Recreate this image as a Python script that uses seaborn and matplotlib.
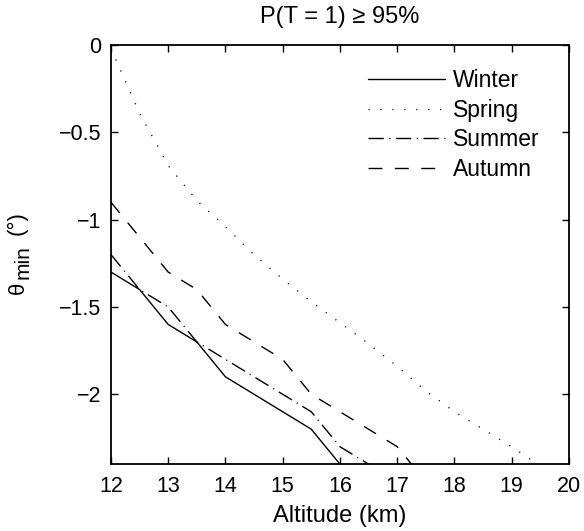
import numpy as np
import pandas as pd
import matplotlib
matplotlib.use("Agg")
import matplotlib.pyplot as plt
import seaborn as sns

# dados
alt_winter = [12, 12.5, 13, 13.5, 14, 14.5, 15, 15.5, 16]
winter = [-1.3, -1.4, -1.6, -1.7, -1.9, -2.0, -2.1, -2.2, -2.4]

alt_spring = [12, 12.5, 13, 13.5, 14, 14.5, 15, 15.5, 16, 16.5, 17, 17.5, 18, 18.5, 19, 19.5]
spring = [-0.02, -0.39, -0.69, -0.89, -1.04, -1.2, -1.34, -1.47, -1.59, -1.71,
          -1.84, -1.98, -2.1, -2.2, -2.3, -2.41]

alt_summer = [12, 12.5, 13, 13.5, 14, 14.5, 15, 15.5, 16, 16.5]
summer = [-1.2, -1.4, -1.5, -1.7, -1.8, -1.9, -2.0, -2.1, -2.3, -2.4]

alt_autumn = [12, 12.5, 13, 13.5, 14, 14.5, 15, 15.5, 16, 16.5, 17, 17.5]
autumn = [-0.9, -1.1, -1.3, -1.4, -1.6, -1.7, -1.8, -2.0, -2.1, -2.2, -2.3, -2.5]

sns.set_style("white")
plt.rcParams['font.family'] = ['Liberation Sans', 'DejaVu Sans']
plt.rcParams['lines.scale_dashes'] = False
plt.rcParams['text.color'] = 'black'
plt.rcParams['axes.labelcolor'] = 'black'
plt.rcParams['xtick.color'] = 'black'
plt.rcParams['ytick.color'] = 'black'

fs = 15.5

fig = plt.figure(figsize=(5.84, 5.31), dpi=100)
ax = fig.add_axes([0.190, 0.126, 0.784, 0.789])

series = [
    ("Winter", alt_winter, winter, "-"),
    ("Spring", alt_spring, spring, (0, (0.8, 7.8))),
    ("Summer", alt_summer, summer, (0, (11, 4, 0.8, 4))),
    ("Autumn", alt_autumn, autumn, (0, (10, 9))),
]

for nome, x, y, ls in series:
    d = pd.DataFrame({"alt": x, "theta": y})
    sns.lineplot(data=d, x="alt", y="theta", ax=ax, color="black",
                 linewidth=1.0, linestyle=ls, label=nome, sort=False)

ax.set_xlim(12, 20)
ax.set_ylim(-2.4, 0)
ax.set_xticks(np.arange(12, 21, 1))
ax.set_yticks([0, -0.5, -1, -1.5, -2])
ax.set_yticklabels(["0", "\u22120.5", "\u22121", "\u22121.5", "\u22122"])

ax.tick_params(direction="in", length=5, width=1, labelsize=fs,
               colors="black", top=True, right=True, bottom=True, left=True)
ax.tick_params(axis="x", pad=8.5)
ax.tick_params(axis="y", pad=7)
for s in ax.spines.values():
    s.set_visible(True)
    s.set_linewidth(1.3)
    s.set_color("black")

ax.set_xlabel("Altitude (km)", fontsize=17, labelpad=6, color="black")
ax.set_ylabel("")
# theta_min (°) com subscrito quase do mesmo tamanho, como no original
ax.text(-0.203, 0.42, "\u03b8", rotation=90, fontsize=16, color="black",
        ha="center", va="center", transform=ax.transAxes)
ax.text(-0.193, 0.482, "min", rotation=90, fontsize=15, color="black",
        ha="center", va="center", transform=ax.transAxes)
ax.text(-0.205, 0.576, "(\u00b0)", rotation=90, fontsize=16, color="black",
        ha="center", va="center", transform=ax.transAxes)
ax.set_title("P(T = 1) \u2265 95%", fontsize=17, pad=16, color="black")

leg = ax.legend(loc="upper left", bbox_to_anchor=(0.561, 0.943), frameon=False,
                fontsize=16.5, handlelength=3.36, handletextpad=0.35,
                labelspacing=0.29, borderaxespad=0, borderpad=0)
for t in leg.get_texts():
    t.set_color("black")

plt.savefig("out.png", dpi=100)
